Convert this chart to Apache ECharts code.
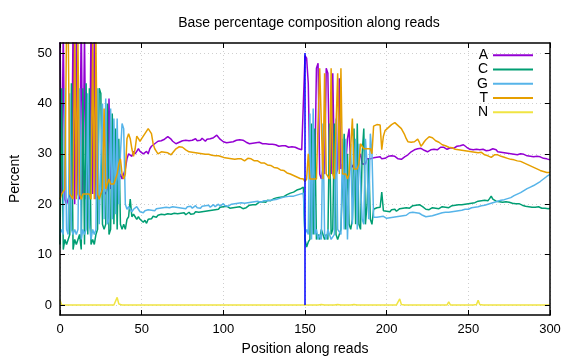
<!DOCTYPE html>
<html>
<head>
<meta charset="utf-8">
<script src="https://cdn.jsdelivr.net/npm/echarts@6/dist/echarts.min.js"></script>
<style>html,body{margin:0;padding:0;background:#fff}#c{width:576px;height:360px}</style>
</head>
<body>
<div id="c"></div>
<script>
const xTicks = [0, 50, 100, 150, 200, 250, 300];
const yTicks = [0, 10, 20, 30, 40, 50];
const bases = ['A', 'C', 'G', 'T', 'N'];
const splitMark = [[150, 0], [150, 50]];

const A = [
54,22,55,21,20,21,22,21,56,20,
55,22,21,57,22,54,21,22,21,56,
22,55,21,22,22,22,23,23,22,23,
41,23,24,24,25,24,25,26,25,25,
27,29,30,30,29.5,30.5,30,30.5,31,30.5,
30.5,30,30,30.5,30,31,31.5,31.5,32,32,
32.5,32.3,32.6,32.4,32.9,33.1,33.4,33.2,32.9,32.5,
32.2,32.0,32.1,32.3,32.4,32.6,32.5,32.7,32.8,32.6,
32.9,32.7,32.8,33.0,32.6,32.9,32.7,33.1,32.8,32.5,
32.9,32.7,33.0,32.8,33.2,33.5,33.7,33.4,32.9,32.6,
32.4,32.3,32.2,32.4,32.3,32.5,32.4,32.6,32.7,32.5,
32.8,32.9,32.7,32.5,32.3,32.1,32.0,32.2,32.1,31.9,
32.2,32.0,32.3,32.1,32.0,31.8,32.0,32.1,31.9,31.7,
31.9,32.0,31.8,31.6,31.5,31.7,31.6,31.4,31.6,31.5,
31.3,31.5,31.4,31.2,31.3,31.1,31.0,30.9,30.8,30.6,
49.5,49,44,26,27,25,26,47,48,26,
25,27,26,47,46,27,26,46,27,26,
27,45,27,28,27,28,33,35,27,27,
28,27,28,28,30,28,28,28,29,29,
29,29,29.2,29.0,29.3,29.1,29.4,29.0,29.3,29.1,
29.2,29.5,29.3,29.6,29.4,29.5,29.2,29.0,28.8,28.9,
29.2,29.4,29.6,29.8,30.1,30.4,30.6,30.8,30.7,31.0,
31.2,31.1,30.9,30.7,30.5,30.4,30.6,30.8,30.7,30.9,
31.0,30.8,31.1,31.3,31.2,31.3,31.1,30.9,31.0,31.2,
31.0,31.1,31.3,31.5,31.4,31.6,31.7,31.8,31.5,31.3,
31.1,30.9,31.0,30.8,30.7,30.9,30.6,30.8,30.7,30.9,
30.8,30.6,30.9,30.7,30.8,31.0,31.2,30.8,30.4,30.3,
30.3,30.4,30.2,30.3,30.1,30.2,30.0,30.1,29.9,30.0,
29.8,29.9,30.0,29.8,29.9,29.7,29.6,29.8,29.5,29.6,
29.4,29.4,29.5,29.3,29.4,29.2,29.1,29.2,29.0,28.9,28.8
];

const C = [
12,43,11,13,12,12,14,44,11,13,
12,13,14,11,43,12,44,14,43,12,
13,12,14,15,43,42,16,15,16,40,
14,15,38,16,35,15,33,16,15,16,
15,17,17.5,21,17.5,18,17.5,17,17.5,17,
17.0,16.4,16.8,16.2,17.0,17.3,17.1,17.6,17.9,17.4,
17.8,17.6,18.0,17.7,17.9,17.6,18.1,17.8,18.0,17.7,
18.2,17.9,18.1,17.8,18.2,18.0,18.3,17.9,18.1,18.4,
18.0,18.3,18.1,18.5,18.2,18.4,18.7,18.5,18.8,18.6,
18.9,18.7,19.0,18.8,19.1,18.9,19.2,19.0,19.4,19.2,
19.5,19.3,19.6,19.4,19.2,19.5,19.3,19.1,19.4,19.2,
19.5,19.3,19.1,19.4,19.3,19.6,19.8,19.6,19.9,20.1,
19.9,20.2,20.4,20.2,20.5,20.6,20.4,20.8,20.9,20.7,
21.0,21.1,20.9,21.3,21.2,21.4,21.6,21.5,21.8,21.9,
22.0,22.2,22.1,22.4,22.6,22.8,22.7,23.0,23.2,23.4,
13,11.5,12.5,13,36,14,35,13,14,13,
15,14,13,14,13,36,14,15,36,14,
13,14,15,15,34,15,30,16,15,17,
35,16,36,16,15,30,35,16,20,29,
17,16,19.0,19.0,19.3,19.1,19.4,22.4,18.7,18.9,
18.6,18.8,18.5,18.9,18.7,19.0,18.6,18.8,19.1,18.9,
19.2,19.0,19.3,19.5,19.2,19.4,19.7,19.5,19.8,19.6,
19.9,19.7,19.5,19.3,19.0,19.2,18.9,19.1,19.3,19.0,
19.2,19.4,19.1,19.3,19.5,19.2,19.4,19.6,19.3,19.5,
19.7,19.5,19.8,19.6,19.9,20.1,19.9,20.2,20.0,20.3,
20.1,20.4,20.2,20.5,20.3,20.4,20.6,20.5,20.7,20.6,
20.8,20.9,20.7,21.1,21.6,21.0,20.8,20.6,20.8,20.5,
20.6,20.4,20.7,20.5,20.6,20.4,20.5,20.2,20.3,20.1,
20.0,20.1,19.9,19.8,19.9,19.6,19.7,19.5,19.6,19.4,
19.5,19.4,19.3,19.5,19.3,19.2,19.4,19.2,19.3,19.1,19.2
];

const G = [
14,15,14,43,15,14,42,15,14,15,
14,15,43,13,15,14,15,42,16,13,
15,14,15,43,16,16,40,17,41,16,
17,39,17,37,18,37,20,30,36,35,
20,19,19.5,19,18.5,19,19,19.5,19,18.5,
18.6,18.3,18.7,18.4,18.9,18.6,18.8,19.0,18.7,19.1,
18.8,19.2,18.9,19.3,19.0,19.4,19.1,19.3,19.0,19.5,
19.2,19.4,19.1,19.3,19.6,19.2,19.4,19.1,19.5,19.3,
19.6,19.2,19.4,19.7,19.3,19.5,19.2,19.6,19.4,19.7,
19.5,19.8,19.4,19.6,19.9,19.5,19.7,20.0,19.6,19.8,
20.1,19.7,19.9,19.6,19.8,20.0,19.8,20.1,19.9,20.2,
20.0,20.3,20.1,20.2,20.0,20.3,20.2,20.4,20.3,20.5,
20.4,20.6,20.5,20.4,20.6,20.7,20.8,20.7,20.9,20.8,
21.0,20.9,21.1,21.0,21.2,21.2,21.3,21.4,21.3,21.5,
21.4,21.6,21.7,21.6,21.8,21.8,21.9,22.0,22.1,22.2,
14,15,14,38,13,39,14,15,13,14,
13,36,14,13,15,14,13,13,14,37,
15,15,14,33,15,33,13,24,32,16,
16,33,15,32,24,17,16,33,28,17,
34,30,17.4,17.6,17.4,17.7,17.5,17.3,17.6,17.4,
17.2,17.5,17.3,17.6,17.4,17.7,17.5,17.8,17.6,17.9,
17.7,18.0,17.8,18.1,18.3,18.2,18.4,18.2,18.3,18.1,
18.2,18.0,17.8,17.6,17.5,17.4,17.6,17.5,17.7,17.8,
17.9,18.0,18.1,18.2,18.3,18.3,18.4,18.5,18.4,18.6,
18.5,18.7,18.6,18.8,18.7,18.9,18.8,18.9,19.0,19.1,
19.0,19.2,19.3,19.2,19.4,19.4,19.5,19.6,19.7,19.7,
19.8,19.9,20.0,20.1,20.2,20.2,20.4,20.5,20.6,20.7,
20.8,20.8,20.9,21.0,21.1,21.2,21.3,21.5,21.7,21.8,
22.0,22.2,22.3,22.5,22.7,22.9,23.1,23.2,23.4,23.6,
23.7,23.9,24.1,24.3,24.5,24.8,25.0,25.2,25.5,25.7,25.9
];

const T = [
21,22,22,23,55,56,22,22,21,54,
21,52,22,21,22,22,22,22,22,21,
52,21,53,22,21,22,23,39,23,23,
25,24,24,24,24,26,28,29,26,25,
26,33,34,33,31,29.5,31,33.5,33,32.5,
33,33.5,34,34.5,35,34.5,34,32,31,30.5,
30,30.2,30.4,30.1,30.3,30.6,30.2,30.4,29.8,29.5,
30.6,31.0,31.3,31.4,31.6,31.3,31.1,30.8,30.6,30.4,
30.6,30.3,30.5,30.2,30.4,30.1,30.3,30.0,30.2,29.9,
29.8,29.9,29.6,29.7,29.5,29.6,29.4,29.6,29.3,29.4,
29.5,29.2,29.4,29.1,29.3,29.0,29.2,28.9,28.8,29.0,
28.7,29.0,28.8,28.6,28.7,29.1,29.3,29.0,28.8,28.6,
28.5,28.6,28.3,28.2,28.1,28.2,27.9,27.8,27.6,27.7,
27.4,27.3,27.1,27.2,26.9,26.8,26.6,26.7,26.4,26.2,
26.3,26.0,25.8,25.7,25.5,25.4,25.3,25.1,25.2,25.0,
24.5,25,30,25,25,25,25,25,25,47,
47,25,46,26,26,25,47,26,25,25,
46,26,47,26,26,26,25,26,26,37,
27,27,27,28,32,32,31,31,31,31,
31,30,35.5,35.6,35.8,35.5,35.7,30.8,33.5,34.6,
34.9,35.2,35.5,35.8,36.0,36.2,35.9,35.6,35.3,35.0,
34.4,33.8,33.0,32.4,32.2,32.3,32.1,32.4,32.6,32.9,
32.3,31.5,31.9,32.4,32.8,33.1,33.4,33.5,33.2,32.9,
32.6,32.4,32.3,32.0,31.8,31.9,31.6,31.4,31.3,31.1,
31.2,31.0,30.9,31.1,30.8,30.9,30.7,30.8,30.6,30.7,
30.5,30.6,30.4,30.5,30.3,30.4,30.2,30.1,30.3,30.0,
29.8,29.9,29.6,29.4,29.3,29.5,29.8,30.0,29.8,29.6,
29.5,29.6,29.3,29.4,29.1,29.2,28.9,29.0,28.8,28.9,
28.6,28.7,28.5,28.4,28.2,28.0,27.9,27.8,27.6,27.5,
27.3,27.2,27.0,26.9,26.7,26.6,26.5,26.4,26.3,26.4,26.3
];

const N = [
1.0,0,0,0,0,0,0,0,0,0,
0,0,0,0,0,0,0,0,0,0,
0,0,0,0,0,0,0,0,0,0,
0,0,0,0,0.3,1.5,0.2,0,0,0,
0,0,0,0,0,0,0,0,0,0,
0,0,0,0,0,0,0,0,0,0,
0,0,0,0,0,0,0,0,0,0,
0,0,0,0,0,0,0,0,0,0,
0,0,0,0,0,0,0,0,0,0,
0,0,0,0,0,0,0,0,0,0,
0,0,0,0,0,0,0,0,0,0,
0,0,0,0,0,0,0,0.2,0,0,
0,0,0,0,0,0,0,0,0,0,
0,0,0,0,0,0,0,0.3,0,0,
0,0,0,0,0,0,0,0,0,0,
0,0,0,0,0,0.1,0,0,0,0,
0.1,0,0,0,0,0,0,0,0,0,
0.1,0,0,0,0,0,0,0,0,0,
0.1,0,0,0,0,0,0,0,0,0,
0,0,0,0,0,0,0,0,0,0,
0,0,0,0,0,0,0,0.2,1.2,0.1,
0,0,0,0,0,0,0,0,0.1,0,
0,0,0,0,0,0,0,0,0,0,
0.1,0,0,0,0,0,0,0,0.6,0,
0,0,0,0,0,0,0,0,0,0,
0,0,0,0,0,0.1,0.9,0.1,0,0,
0,0,0,0,0,0,0,0,0,0,
0,0,0,0,0,0,0,0,0,0,
0,0,0,0,0,0,0,0,0,0,
0,0,0,0,0,0,0,0,0,0,0
];

const colors = ['#9400d3', '#009e73', '#56b4e9', '#e69f00', '#f0e442'];
const seriesValues = [A, C, G, T, N];
const FONT = '"Liberation Sans", Arial, sans-serif';

const chart = echarts.init(document.getElementById('c'), null, {renderer: 'canvas'});

const series = bases.map((b, k) => ({
  name: b,
  type: 'line',
  xAxisIndex: 0, yAxisIndex: 0,
  data: seriesValues[k].map((v, i) => [i, v]),
  showSymbol: false,
  symbol: 'none',
  clip: true,
  lineStyle: {color: colors[k], width: 1.5},
  itemStyle: {color: colors[k]},
  z: 2
}));
series.push({
  name: 'split',
  type: 'line',
  xAxisIndex: 0, yAxisIndex: 0,
  data: splitMark,
  showSymbol: false,
  symbol: 'none',
  lineStyle: {color: '#0000ff', width: 1.5},
  z: 10,
  silent: true
});

const axisLine = {show: true, onZero: false, lineStyle: {color: '#000', width: 1.5}};
const tick = {show: true, inside: true, length: 5, lineStyle: {color: '#000', width: 1}};
const gridRect = {left: 60, right: 26, top: 43, bottom: 45, show: false, containLabel: false, outerBoundsMode: 'none'};
const splitStyle = {show: true, lineStyle: {color: '#cfcfcf', type: [1, 3], width: 1}};
const labelFont = {fontFamily: FONT, fontSize: 13, color: '#000'};

chart.setOption({
  animation: false,
  backgroundColor: '#fff',
  textStyle: {fontFamily: FONT},
  title: {
    text: 'Base percentage composition along reads',
    left: 304, top: 11, textAlign: 'center',
    textStyle: {fontFamily: FONT, fontSize: 14, fontWeight: 'normal', color: '#000'}
  },
  legend: {
    data: bases,
    orient: 'vertical',
    right: 38, top: 43,
    align: 'right',
    icon: 'rect',
    itemWidth: 40, itemHeight: 2,
    itemGap: 0,
    textStyle: {fontFamily: FONT, fontSize: 14, color: '#000', lineHeight: 14.3}
  },
  grid: [Object.assign({}, gridRect), Object.assign({}, gridRect)],
  xAxis: [{
    gridIndex: 0, type: 'value', min: 0, max: 300, interval: 50, position: 'bottom',
    axisLine: {show: false}, axisTick: {show: false}, axisLabel: {show: false},
    splitLine: splitStyle, z: 0
  }, {
    gridIndex: 0, type: 'value', min: 0, max: 300, interval: 50, position: 'top',
    axisLine: axisLine, axisTick: tick, axisLabel: {show: false}, splitLine: {show: false}, z: 20
  }, {
    gridIndex: 1, type: 'value', min: 0, max: 300, interval: 50, position: 'bottom',
    name: 'Position along reads', nameLocation: 'middle', nameGap: 27,
    nameTextStyle: {fontFamily: FONT, fontSize: 14, color: '#000'},
    axisLine: axisLine, axisTick: tick,
    axisLabel: Object.assign({margin: 8}, labelFont),
    splitLine: {show: false}, z: 20
  }],
  yAxis: [{
    gridIndex: 0, type: 'value', min: -2, max: 52, position: 'left',
    axisLine: {show: false}, axisTick: {show: false, customValues: yTicks},
    axisLabel: {show: false, customValues: yTicks},
    splitLine: splitStyle, z: 0
  }, {
    gridIndex: 0, type: 'value', min: -2, max: 52, position: 'right',
    axisLine: axisLine,
    axisTick: Object.assign({customValues: yTicks}, tick),
    axisLabel: {show: false, customValues: yTicks}, splitLine: {show: false}, z: 20
  }, {
    gridIndex: 1, type: 'value', min: -2, max: 52, position: 'left',
    name: 'Percent', nameLocation: 'middle', nameGap: 38,
    nameTextStyle: {fontFamily: FONT, fontSize: 14, color: '#000'},
    axisLine: axisLine,
    axisTick: Object.assign({customValues: yTicks}, tick),
    axisLabel: Object.assign({customValues: yTicks, margin: 8}, labelFont),
    splitLine: {show: false}, z: 20
  }],
  series: series
});
</script>
</body>
</html>
